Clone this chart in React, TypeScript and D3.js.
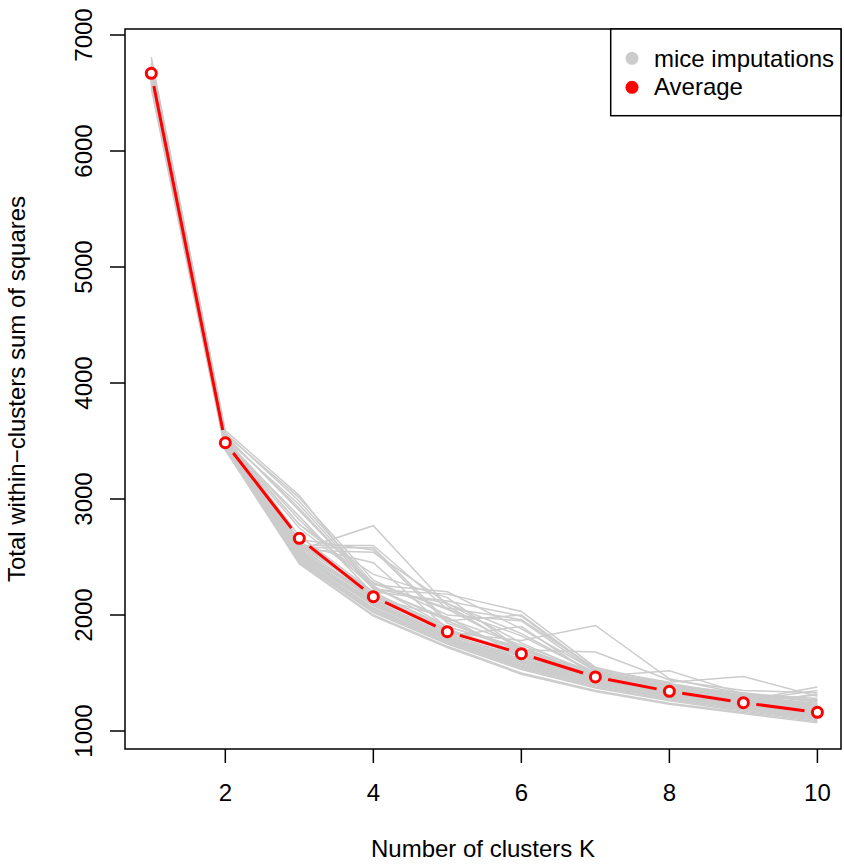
import React from "react";
import * as d3 from "d3";

const kValues = [1, 2, 3, 4, 5, 6, 7, 8, 9, 10];

const averageWss = [6670, 3485, 2661, 2158, 1856, 1667, 1466, 1342, 1244, 1161];

// one row per mice imputation, values for K = 1..10
const imputations = [
  [6680, 3490, 2560, 2130, 1830, 1640, 1450, 1330, 1230, 1150],
  [6620, 3460, 2500, 2080, 1790, 1590, 1420, 1300, 1210, 1130],
  [6720, 3520, 2950, 2250, 1900, 1720, 1480, 1360, 1260, 1170],
  [6650, 3470, 2620, 2200, 1880, 1660, 1460, 1340, 1240, 1160],
  [6590, 3440, 2470, 2030, 1760, 1540, 1380, 1270, 1180, 1100],
  [6760, 3560, 3010, 2300, 2000, 1950, 1510, 1380, 1290, 1200],
  [6700, 3500, 2560, 2770, 2080, 1700, 1500, 1350, 1250, 1170],
  [6640, 3480, 2540, 2150, 1980, 1640, 1440, 1320, 1230, 1140],
  [6600, 3450, 2480, 2050, 1770, 1560, 1400, 1290, 1200, 1120],
  [6810, 3590, 3030, 2220, 2180, 2030, 1550, 1400, 1300, 1220],
  [6670, 3480, 2580, 2580, 1950, 1680, 1470, 1350, 1260, 1380],
  [6690, 3500, 2850, 2180, 1850, 1780, 1910, 1450, 1320, 1280],
  [6560, 3430, 2450, 2000, 1730, 1500, 1350, 1240, 1160, 1080],
  [6730, 3530, 2680, 2200, 2120, 1990, 1520, 1390, 1300, 1240],
  [6650, 3490, 2600, 2450, 1880, 1650, 1470, 1360, 1250, 1180],
  [6700, 3510, 2780, 2280, 2050, 1820, 1500, 1380, 1290, 1210],
  [6620, 3460, 2520, 2100, 1800, 1600, 1430, 1310, 1220, 1140],
  [6750, 3550, 2900, 2240, 1950, 2000, 1530, 1420, 1470, 1300],
  [6680, 3490, 2560, 2540, 2100, 1760, 1480, 1370, 1280, 1220],
  [6610, 3470, 2500, 2100, 1820, 1900, 1470, 1520, 1320, 1250],
  [6640, 3470, 2530, 2120, 1810, 1620, 1430, 1320, 1230, 1150],
  [6710, 3520, 2780, 2350, 2150, 1700, 1680, 1440, 1350, 1330],
  [6580, 3440, 2460, 2020, 1750, 1530, 1370, 1260, 1170, 1090],
  [6660, 3480, 2620, 2170, 1870, 1660, 1460, 1340, 1260, 1350],
  [6690, 3500, 2750, 2260, 2200, 1880, 1520, 1400, 1290, 1230],
  [6630, 3470, 2550, 2160, 1840, 1620, 1450, 1320, 1240, 1160],
  [6720, 3530, 2600, 2600, 2050, 1720, 1490, 1370, 1280, 1200],
  [6600, 3450, 2490, 2060, 1780, 1570, 1410, 1280, 1190, 1110],
  [6540, 3420, 2440, 1990, 1720, 1490, 1340, 1230, 1150, 1070],
  [6790, 3570, 2980, 2270, 2060, 1960, 1540, 1410, 1310, 1260],
  [6650, 3480, 2590, 2140, 1860, 1650, 1450, 1330, 1250, 1310],
  [6700, 3500, 2640, 2190, 1900, 1700, 1470, 1350, 1260, 1190],
  [6610, 3460, 2510, 2090, 1790, 1580, 1420, 1300, 1210, 1130],
  [6740, 3540, 2920, 2230, 1970, 1740, 1500, 1390, 1300, 1270],
  [6570, 3440, 2470, 2040, 1760, 1550, 1390, 1280, 1190, 1110],
  [6680, 3490, 2570, 2170, 1860, 1670, 1460, 1350, 1250, 1190],
  [6630, 3470, 2540, 2110, 1820, 1610, 1440, 1320, 1230, 1320],
  [6720, 3520, 2820, 2230, 2100, 1840, 1500, 1390, 1330, 1260],
  [6660, 3480, 2600, 2180, 1870, 1680, 1470, 1350, 1270, 1200],
  [6590, 3450, 2480, 2060, 1780, 1560, 1400, 1290, 1200, 1120],
  [6700, 3510, 2650, 2560, 1930, 1700, 1480, 1360, 1270, 1200],
  [6620, 3460, 2530, 2110, 1810, 1600, 1430, 1310, 1220, 1140],
];

const xTicks = [2, 4, 6, 8, 10];
const yTicks = [1000, 2000, 3000, 4000, 5000, 6000, 7000];
const legendLabels = ["mice imputations", "Average"];

const W = 844;
const H = 867;
const box = { left: 125, right: 841, top: 29, bottom: 749 };
const font = "'Liberation Sans', Arial, Helvetica, sans-serif";
const grey = "#cccccc";
const red = "#ff0000";

export default function App() {
  const x = d3.scaleLinear().domain([1, 10]).range([151.3, 817.4]);
  const y = d3.scaleLinear().domain([1000, 7000]).range([731, 35]);

  const line = d3
    .line<number>()
    .x((_, i) => x(kValues[i]))
    .y((d) => y(d));

  // type = "b": red segments stop short of each point
  const pts = averageWss.map((v, i) => [x(kValues[i]), y(v)]);
  const gap = 13;
  const segments = pts.slice(1).map((p, i) => {
    const a = pts[i];
    const dx = p[0] - a[0];
    const dy = p[1] - a[1];
    const len = Math.hypot(dx, dy);
    const ux = dx / len;
    const uy = dy / len;
    return [a[0] + ux * gap, a[1] + uy * gap, p[0] - ux * gap, p[1] - uy * gap];
  });

  return (
    <svg
      width={W}
      height={H}
      style={{ position: "absolute", left: 0, top: 0, background: "#fff" }}
      fontFamily={font}
    >
      <rect width={W} height={H} fill="#fff" />

      {imputations.map((s, i) => (
        <path key={i} d={line(s) || ""} fill="none" stroke={grey} strokeWidth={1.5} />
      ))}

      {segments.map((s, i) => (
        <line
          key={i}
          x1={s[0]}
          y1={s[1]}
          x2={s[2]}
          y2={s[3]}
          stroke={red}
          strokeWidth={3}
        />
      ))}
      {pts.map((p, i) => (
        <circle key={i} cx={p[0]} cy={p[1]} r={5} fill="#fff" stroke={red} strokeWidth={3} />
      ))}

      <rect
        x={box.left}
        y={box.top}
        width={box.right - box.left}
        height={box.bottom - box.top}
        fill="none"
        stroke="#000"
        strokeWidth={1.5}
      />

      {xTicks.map((t) => (
        <g key={t}>
          <line x1={x(t)} x2={x(t)} y1={box.bottom} y2={box.bottom + 14} stroke="#000" strokeWidth={1.5} />
          <text x={x(t)} y={800.7} fontSize={24} textAnchor="middle">
            {t}
          </text>
        </g>
      ))}

      {yTicks.map((t) => (
        <g key={t}>
          <line x1={box.left - 15} x2={box.left} y1={y(t)} y2={y(t)} stroke="#000" strokeWidth={1.5} />
          <text
            transform={`translate(92,${y(t)}) rotate(-90)`}
            fontSize={24}
            textAnchor="middle"
          >
            {t}
          </text>
        </g>
      ))}

      <text x={(box.left + box.right) / 2} y={857} fontSize={24} textAnchor="middle">
        Number of clusters K
      </text>
      <text
        transform={`translate(25,${(box.top + box.bottom) / 2}) rotate(-90)`}
        fontSize={24}
        textAnchor="middle"
      >
        Total within−clusters sum of squares
      </text>

      <rect x={610.7} y={box.top} width={box.right - 610.7} height={86.7} fill="#fff" stroke="#000" strokeWidth={1.5} />
      {legendLabels.map((lab, i) => (
        <g key={lab}>
          <circle cx={632} cy={58.3 + i * 29} r={6.5} fill={i === 0 ? grey : red} />
          <text x={654} y={66.7 + i * 28.5} fontSize={24}>
            {lab}
          </text>
        </g>
      ))}
    </svg>
  );
}
